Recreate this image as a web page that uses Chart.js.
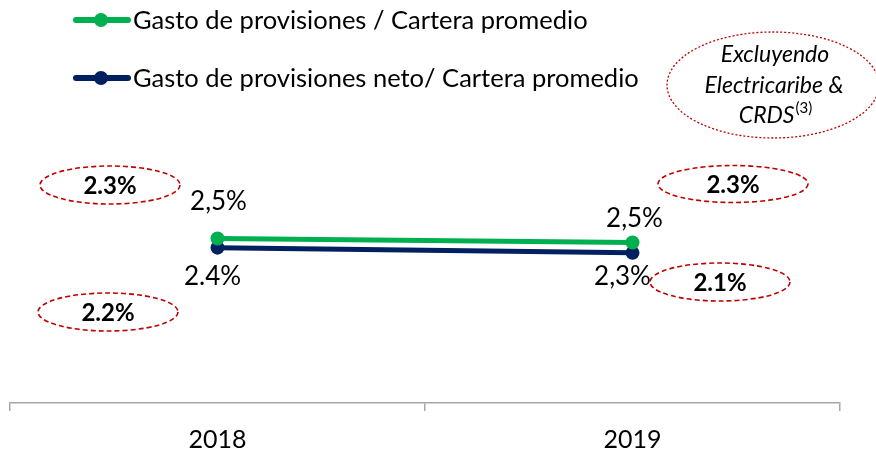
<!DOCTYPE html>
<html lang="es">
<head>
  <meta charset="UTF-8" />
  <script src="https://cdn.jsdelivr.net/npm/chart.js"></script>
  <title>Gasto de provisiones</title>
  <style>
    body { margin: 0; background: #fff; }
    #wrap { position: relative; width: 876px; height: 455px; overflow: hidden; }
    #grafico { position: absolute; left: 0; top: 0; }
  </style>
</head>
<body>
  <div id="wrap">
    <canvas id="grafico" width="876" height="475"></canvas>
  </div>

  <script>
    // datos
    const anios = ["2018", "2019"];
    const gastoProvisiones = [2.53, 2.47];
    const gastoProvisionesNeto = [2.39, 2.31];
    const etiquetasGasto = ["2,5%", "2,5%"];
    const etiquetasNeto = ["2.4%", "2,3%"];
    // valores excluyendo Electricaribe & CRDS
    const exclGasto = ["2.3%", "2.3%"];
    const exclNeto = ["2.2%", "2.1%"];
    const nombresSeries = ["Gasto de provisiones / Cartera promedio", "Gasto de provisiones neto/ Cartera promedio"];
    const notaLineas = ["Excluyendo", "Electricaribe &", "CRDS"];
    const notaSup = "(3)";

    const VERDE = "#00B050";
    const AZUL = "#002060";
    const ROJO = "#C00000";
    const fuente = "Lato, 'Open Sans', sans-serif";

    // óvalos (centro x, centro y, radio x, radio y)
    const ovalos = [
      { txt: exclGasto[0], cx: 110, cy: 185, rx: 70, ry: 19 },
      { txt: exclNeto[0], cx: 108, cy: 312, rx: 70, ry: 19 },
      { txt: exclGasto[1], cx: 733, cy: 184, rx: 75, ry: 18.5 },
      { txt: exclNeto[1], cx: 720, cy: 282, rx: 70, ry: 19 }
    ];

    const extras = {
      id: "extras",
      afterDatasetsDraw(chart) {
        const ctx = chart.ctx;
        ctx.save();
        // leyenda
        const colores = [VERDE, AZUL];
        const ys = [20, 78];
        colores.forEach((c, i) => {
          ctx.strokeStyle = c; ctx.fillStyle = c;
          ctx.lineWidth = 6; ctx.lineCap = "round";
          ctx.beginPath(); ctx.moveTo(76, ys[i]); ctx.lineTo(128, ys[i]); ctx.stroke();
          ctx.beginPath(); ctx.arc(101, ys[i], 7, 0, Math.PI * 2); ctx.fill();
          ctx.fillStyle = "#000";
          ctx.font = "25.5px " + fuente;
          ctx.textBaseline = "middle"; ctx.textAlign = "left";
          ctx.fillText(nombresSeries[i], 133, ys[i] + 1);
        });
        // etiquetas de datos
        ctx.font = "26px " + fuente;
        ctx.textAlign = "center"; ctx.textBaseline = "middle";
        ctx.fillStyle = "#000";
        const offG = [[1, -37], [2, -24]];
        const offN = [[-5, 29], [-10, 24]];
        chart.getDatasetMeta(0).data.forEach((p, i) => {
          ctx.fillText(etiquetasGasto[i], p.x + offG[i][0], p.y + offG[i][1]);
        });
        chart.getDatasetMeta(1).data.forEach((p, i) => {
          ctx.fillText(etiquetasNeto[i], p.x + offN[i][0], p.y + offN[i][1]);
        });
        // óvalos punteados
        ctx.lineWidth = 1.6; ctx.strokeStyle = ROJO; ctx.lineCap = "butt";
        ctx.setLineDash([5, 3]);
        ovalos.forEach(o => {
          ctx.beginPath(); ctx.ellipse(o.cx, o.cy, o.rx, o.ry, 0, 0, Math.PI * 2); ctx.stroke();
          ctx.font = "bold 24px " + fuente;
          ctx.fillText(o.txt, o.cx, o.cy + 1);
        });
        // nota
        ctx.setLineDash([2, 2]); ctx.lineWidth = 1.3;
        ctx.beginPath(); ctx.ellipse(773, 85, 106, 53, 0, 0, Math.PI * 2); ctx.stroke();
        ctx.setLineDash([]);
        ctx.font = "italic 23px " + fuente;
        ctx.fillText(notaLineas[0], 775, 55);
        ctx.fillText(notaLineas[1], 774, 86);
        const w1 = ctx.measureText(notaLineas[2]).width;
        ctx.font = "15px " + fuente;
        const w2 = ctx.measureText(notaSup).width;
        const x0 = 775 - (w1 + w2) / 2;
        ctx.textAlign = "left";
        ctx.font = "italic 23px " + fuente;
        ctx.fillText(notaLineas[2], x0, 116);
        ctx.font = "15px " + fuente;
        ctx.fillText(notaSup, x0 + w1 + 1, 108);
        ctx.restore();
      }
    };

    new Chart(document.getElementById("grafico"), {
      type: "line",
      data: {
        labels: anios,
        datasets: [
          {
            label: nombresSeries[0], data: gastoProvisiones,
            borderColor: VERDE, backgroundColor: VERDE, borderWidth: 5,
            pointRadius: 7, pointHoverRadius: 7, pointBorderWidth: 0
          },
          {
            label: nombresSeries[1], data: gastoProvisionesNeto,
            borderColor: AZUL, backgroundColor: AZUL, borderWidth: 5,
            pointRadius: 7, pointHoverRadius: 7, pointBorderWidth: 0
          }
        ]
      },
      options: {
        responsive: false,
        animation: false,
        layout: { padding: { left: 10, right: 36, top: 78, bottom: 6 } },
        plugins: { legend: { display: false }, tooltip: { enabled: false } },
        scales: {
          y: { display: false, min: 0, max: 5 },
          x: {
            offset: true,
            grid: { offset: true, drawOnChartArea: false, tickLength: 8, color: "#A6A6A6", lineWidth: 1.5 },
            border: { color: "#A6A6A6", width: 1.5 },
            ticks: { color: "#000", font: { family: fuente, size: 25 }, padding: 14 }
          }
        }
      },
      plugins: [extras]
    });
  </script>
</body>
</html>
